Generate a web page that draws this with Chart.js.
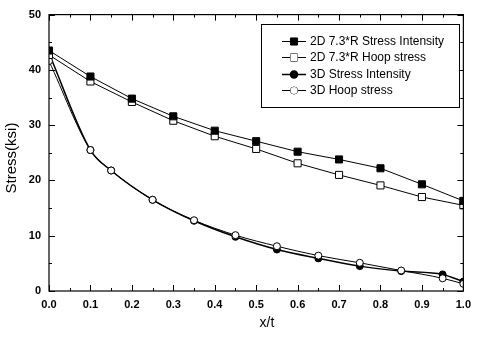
<!DOCTYPE html>
<html>
<head>
<meta charset="utf-8">
<script src="https://cdn.jsdelivr.net/npm/chart.js@4/dist/chart.umd.min.js"></script>
<style>
  html, body { margin: 0; padding: 0; background: #fff; }
  #wrap { width: 478px; height: 337px; }
</style>
</head>
<body>
<div id="wrap"><canvas id="stressChart" width="478" height="337"></canvas></div>
<script>
// x/t positions
const x2D = [0, 0.1, 0.2, 0.3, 0.4, 0.5, 0.6, 0.7, 0.8, 0.9, 1.0];
const x3D = [0, 0.1, 0.15, 0.25, 0.35, 0.45, 0.55, 0.65, 0.75, 0.85, 0.95, 1.0];

// stress values (ksi)
const si2D = [43.5, 38.8, 34.8, 31.6, 29.0, 27.1, 25.2, 23.8, 22.2, 19.3, 16.3];
const hoop2D = [42.7, 37.9, 34.2, 30.8, 28.0, 25.7, 23.1, 21.0, 19.1, 17.0, 15.5];
const si3D = [43.0, 25.5, 21.8, 16.5, 12.7, 9.8, 7.5, 5.9, 4.5, 3.6, 3.0, 1.7];
const hoop3D = [41.6, 25.5, 21.8, 16.5, 12.8, 10.1, 8.1, 6.4, 5.1, 3.7, 2.3, 1.3];

const xTicks = [0, 0.1, 0.2, 0.3, 0.4, 0.5, 0.6, 0.7, 0.8, 0.9, 1.0];
const yTicks = [0, 10, 20, 30, 40, 50];

const seriesNames = [
  "2D 7.3*R Stress Intensity",
  "2D 7.3*R Hoop stress",
  "3D Stress Intensity",
  "3D Hoop stress",
];

function toPoints(xs, ys) {
  return xs.map((x, i) => ({ x: x, y: ys[i] }));
}

const FONT = "'Liberation Sans', Arial, sans-serif";

// inward ticks on all four sides, the frame and axis titles
const frameTicks = {
  id: "frameTicks",
  afterDatasetsDraw(chart) {
    const { ctx, chartArea: a, scales } = chart;
    const xs = scales.x;
    const ys = scales.y;
    ctx.save();
    ctx.strokeStyle = "#000";
    ctx.lineWidth = 1.2;
    ctx.strokeRect(a.left, a.top, a.right - a.left, a.bottom - a.top);
    ctx.lineWidth = 1;
    ctx.beginPath();
    for (let v = 0; v <= 1.0001; v += 0.05) {
      const px = Math.round(xs.getPixelForValue(v)) + 0.5;
      const major = Math.abs(v * 10 - Math.round(v * 10)) < 0.01;
      const len = major ? 6 : 3;
      ctx.moveTo(px, a.bottom);
      ctx.lineTo(px, a.bottom - len);
      ctx.moveTo(px, a.top);
      ctx.lineTo(px, a.top + len);
    }
    for (let v = 0; v <= 50; v += 5) {
      const py = Math.round(ys.getPixelForValue(v)) + 0.5;
      const len = v % 10 === 0 ? 6 : 3;
      ctx.moveTo(a.left, py);
      ctx.lineTo(a.left + len, py);
      ctx.moveTo(a.right, py);
      ctx.lineTo(a.right - len, py);
    }
    ctx.stroke();

    // axis titles
    ctx.fillStyle = "#000";
    ctx.textAlign = "center";
    ctx.textBaseline = "middle";
    ctx.font = "14px " + FONT;
    ctx.fillText("x/t", 267, 323);
    ctx.save();
    ctx.translate(12, 158);
    ctx.rotate(-Math.PI / 2);
    ctx.font = "15px " + FONT;
    ctx.fillText("Stress(ksi)", 0, 0);
    ctx.restore();
    ctx.restore();
  },
};

// boxed legend in the upper right
const boxLegend = {
  id: "boxLegend",
  afterDraw(chart) {
    const { ctx } = chart;
    const left = 261, top = 24, right = 459, bottom = 107;
    ctx.save();
    ctx.fillStyle = "#fff";
    ctx.fillRect(left, top, right - left, bottom - top);
    ctx.strokeStyle = "#000";
    ctx.lineWidth = 1;
    ctx.strokeRect(left + 0.5, top + 0.5, right - left, bottom - top);
    const rows = [41, 57, 74, 90];
    chart.data.datasets.forEach((ds, i) => {
      const y = rows[i] + 0.5;
      ctx.strokeStyle = "#000";
      ctx.lineWidth = ds.borderWidth;
      ctx.beginPath();
      ctx.moveTo(282, y);
      ctx.lineTo(306, y);
      ctx.stroke();
      Chart.helpers.drawPoint(ctx, {
        pointStyle: ds.pointStyle,
        radius: ds.pointRadius,
        borderWidth: 1,
      }, 294, y);
      ctx.fillStyle = ds.pointBackgroundColor;
      ctx.strokeStyle = "#000";
      ctx.fill();
      ctx.fillStyle = "#000";
      ctx.font = "12px " + FONT;
      ctx.textBaseline = "middle";
      ctx.fillText(ds.label, 310, y);
    });
    ctx.restore();
  },
};

const ctx = document.getElementById("stressChart").getContext("2d");
new Chart(ctx, {
  type: "line",
  data: {
    datasets: [
      {
        label: seriesNames[0],
        data: toPoints(x2D, si2D),
        order: 0,
        borderColor: "#000",
        borderWidth: 1,
        pointStyle: "rect",
        pointRadius: 5,
        pointBackgroundColor: "#000",
        pointBorderColor: "#000",
        pointBorderWidth: 1,
        tension: 0,
      },
      {
        label: seriesNames[1],
        data: toPoints(x2D, hoop2D),
        order: 1,
        borderColor: "#000",
        borderWidth: 1,
        pointStyle: "rect",
        pointRadius: 5,
        pointBackgroundColor: "#fff",
        pointBorderColor: "#000",
        pointBorderWidth: 1,
        tension: 0,
      },
      {
        label: seriesNames[2],
        data: toPoints(x3D, si3D),
        order: 3,
        borderColor: "#000",
        borderWidth: 1.5,
        pointStyle: "circle",
        pointRadius: 3.5,
        pointBackgroundColor: "#000",
        pointBorderColor: "#000",
        pointBorderWidth: 1,
        cubicInterpolationMode: "monotone",
      },
      {
        label: seriesNames[3],
        data: toPoints(x3D, hoop3D),
        order: 2,
        borderColor: "#000",
        borderWidth: 1,
        pointStyle: "circle",
        pointRadius: 3.5,
        pointBackgroundColor: "#fff",
        pointBorderColor: "#000",
        pointBorderWidth: 1,
        cubicInterpolationMode: "monotone",
      },
    ],
  },
  options: {
    responsive: false,
    animation: false,
    layout: { padding: { top: 10, right: 10, left: 0, bottom: 0 } },
    plugins: {
      legend: { display: false },
      tooltip: { enabled: false },
    },
    scales: {
      x: {
        type: "linear",
        min: 0,
        max: 1,
        afterBuildTicks: (s) => { s.ticks = xTicks.map((v) => ({ value: v })); },
        afterFit: (s) => { s.height = 46; },
        grid: { display: false, drawTicks: false },
        border: { display: false },
        ticks: {
          color: "#000",
          padding: 7,
          font: { family: FONT, size: 11, weight: "bold" },
          callback: (v) => Number(v).toFixed(1),
        },
      },
      y: {
        min: 0,
        max: 50,
        afterBuildTicks: (s) => { s.ticks = yTicks.map((v) => ({ value: v })); },
        afterFit: (s) => { s.width = 49; },
        grid: { display: false, drawTicks: false },
        border: { display: false },
        ticks: {
          color: "#000",
          padding: 8,
          font: { family: FONT, size: 11, weight: "bold" },
        },
      },
    },
  },
  plugins: [frameTicks, boxLegend],
});
</script>
</body>
</html>
